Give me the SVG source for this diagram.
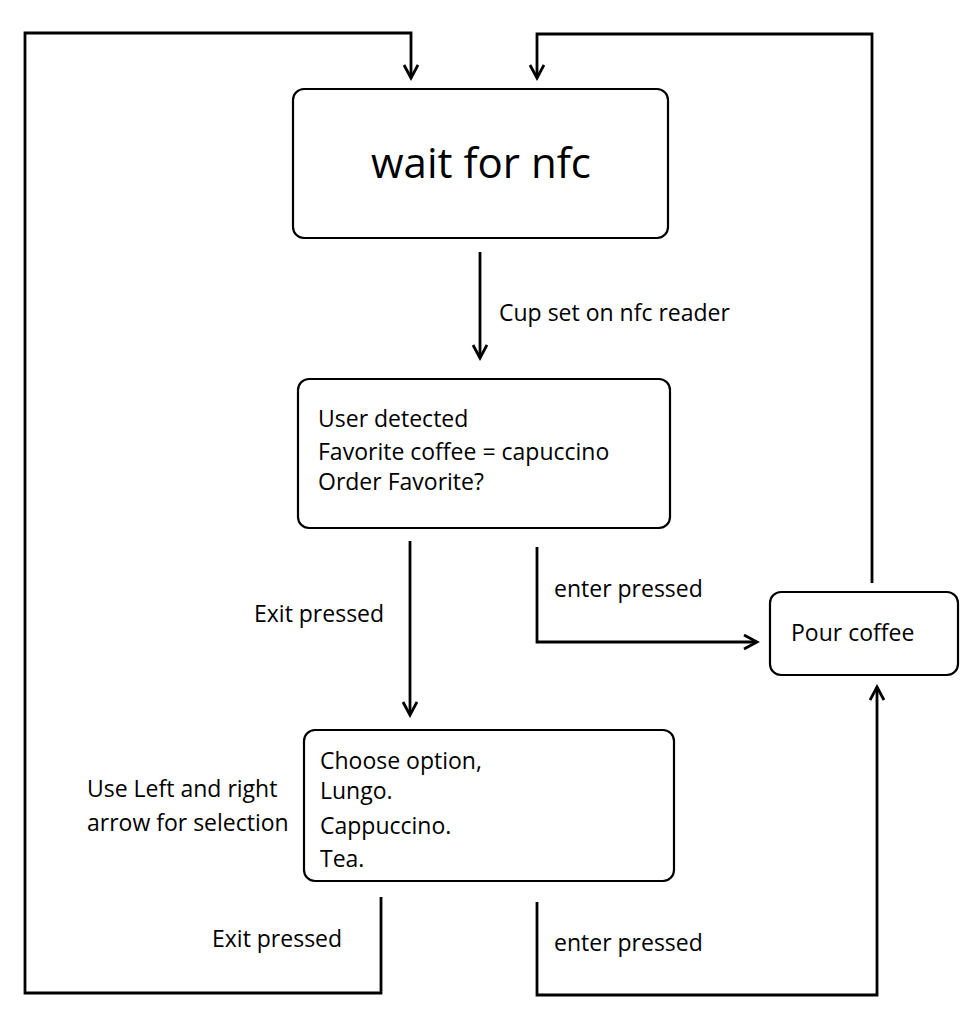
<svg xmlns="http://www.w3.org/2000/svg" width="974" height="1014" viewBox="0 0 974 1014">
<style>
.box{fill:#fff;stroke:#000;stroke-width:2.2}
.t{font-family:"Open Sans","Liberation Sans",Arial,sans-serif;font-size:23px;fill:#000}
.big{font-size:42px}
.c{fill:none;stroke:#000;stroke-width:2.8}
</style>
<defs>
<marker id="ah" markerWidth="18" markerHeight="18" refX="14" refY="8" orient="auto" markerUnits="userSpaceOnUse">
<path d="M1,1 L14,8 L1,15" fill="none" stroke="#000" stroke-width="2.8"/>
</marker>
</defs>
<rect width="974" height="1014" fill="#fff"/>
<g id="connectors">
<path class="c" d="M381,897 V993 H25 V33 H411 V78" marker-end="url(#ah)"/>
<path class="c" d="M872,583 V34 H537 V78" marker-end="url(#ah)"/>
<path class="c" d="M480,252 V358" marker-end="url(#ah)"/>
<path class="c" d="M410,541 V715" marker-end="url(#ah)"/>
<path class="c" d="M537,547 V642 H757" marker-end="url(#ah)"/>
<path class="c" d="M537,902 V995 H877 V687" marker-end="url(#ah)"/>
<text class="t" x="499" y="321">Cup set on nfc reader</text>
<text class="t" x="254" y="622">Exit pressed</text>
<text class="t" x="554" y="597">enter pressed</text>
<text class="t" x="87" y="797">Use Left and right</text>
<text class="t" x="87" y="831">arrow for selection</text>
<text class="t" x="212" y="947">Exit pressed</text>
<text class="t" x="554" y="951">enter pressed</text>
</g>
<g id="wait">
<rect class="box" x="293" y="89" width="375" height="149" rx="11"/>
<text class="t big" x="481" y="178" text-anchor="middle">wait for nfc</text>
</g>
<g id="user">
<rect class="box" x="298" y="379" width="372" height="149" rx="11"/>
<text class="t" x="318" y="427">User detected</text>
<text class="t" x="318" y="460">Favorite coffee = capuccino</text>
<text class="t" x="318" y="490">Order Favorite?</text>
</g>
<g id="choose">
<rect class="box" x="304" y="730" width="370" height="151" rx="11"/>
<text class="t" x="320" y="769">Choose option,</text>
<text class="t" x="320" y="799">Lungo.</text>
<text class="t" x="320" y="834">Cappuccino.</text>
<text class="t" x="320" y="867">Tea.</text>
</g>
<g id="pour">
<rect class="box" x="770" y="592" width="188" height="83" rx="11"/>
<text class="t" x="791" y="641">Pour coffee</text>
</g>
</svg>
